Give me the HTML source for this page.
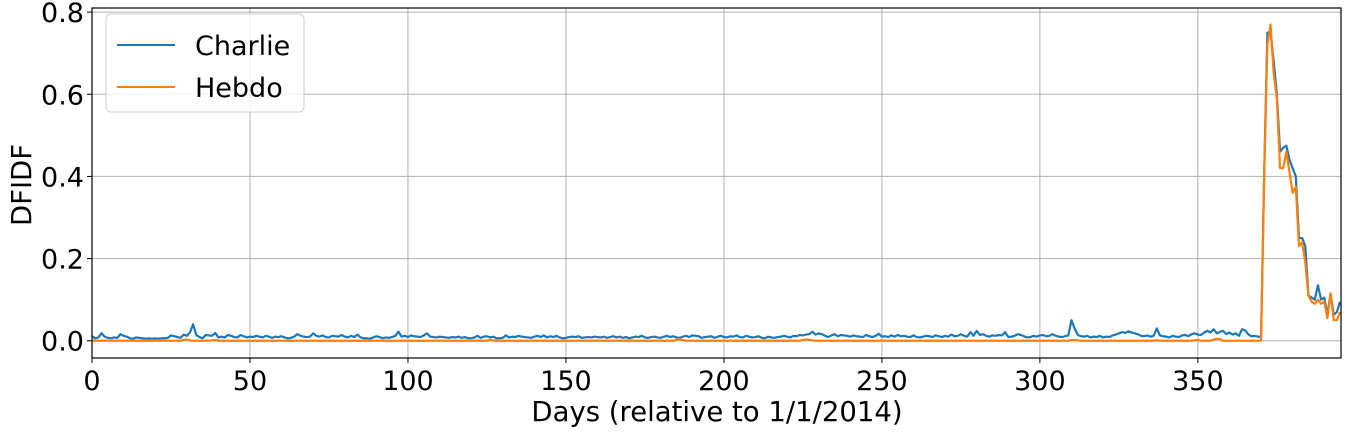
<!DOCTYPE html>
<html><head><meta charset="utf-8"><style>
body{margin:0;background:#fff;}
svg text{font-family:"DejaVu Sans","Liberation Sans",sans-serif;fill:#000;}
</style></head><body>
<svg id="chart" width="1349" height="430" viewBox="0 0 1349 430" xmlns="http://www.w3.org/2000/svg">
<g id="grid"></g>
<g id="series"></g>
<rect x="92" y="8" width="1249" height="350" fill="none" stroke="#000" stroke-width="1.2"/>
<g id="xticks"></g>
<g id="yticks"></g>
<text x="717" y="421" font-size="27.5" text-anchor="middle">Days (relative to 1/1/2014)</text>
<text transform="translate(31,185) rotate(-90)" font-size="27.5" text-anchor="middle">DFIDF</text>
<g>
<rect x="106" y="14" width="198" height="98" rx="5" fill="#fff" fill-opacity="0.8" stroke="#ccc"/>
<line x1="117" y1="45" x2="175" y2="45" stroke="#1f77b4" stroke-width="2"/>
<text x="195" y="55" font-size="27">Charlie</text>
<line x1="117" y1="87" x2="175" y2="87" stroke="#ff7f0e" stroke-width="2"/>
<text x="195" y="97" font-size="27">Hebdo</text>
</g>
</svg>
<script>
const xTicks=[0,50,100,150,200,250,300,350];
const yTicks=[0.0,0.2,0.4,0.6,0.8];
const yTickLabels=["0.0","0.2","0.4","0.6","0.8"];
const charlie=[
.011,.006,.008,.018,.01,.007,.006,.008,.007,.016,.012,.01,.006,.005,.008,.007,.006,.005,.006,.005,
.006,.005,.006,.006,.007,.013,.011,.009,.007,.015,.012,.02,.04,.014,.009,.006,.014,.013,.012,.019,
.008,.01,.008,.014,.012,.009,.008,.014,.011,.008,.01,.009,.012,.01,.008,.012,.01,.007,.01,.009,
.011,.008,.006,.007,.01,.016,.012,.01,.009,.01,.018,.012,.01,.013,.009,.008,.012,.011,.01,.014,
.01,.008,.012,.009,.015,.008,.006,.006,.005,.008,.011,.009,.006,.008,.007,.009,.012,.022,.01,.012,
.009,.013,.011,.01,.009,.013,.018,.01,.009,.008,.01,.009,.008,.007,.009,.008,.01,.007,.009,.006,
.006,.008,.012,.007,.01,.011,.008,.01,.006,.006,.007,.013,.008,.01,.009,.012,.01,.009,.008,.007,
.01,.012,.009,.013,.008,.011,.009,.012,.008,.006,.007,.009,.01,.009,.011,.007,.008,.009,.008,.01,
.009,.008,.01,.007,.009,.011,.008,.01,.007,.009,.006,.008,.01,.009,.012,.008,.007,.009,.01,.008,
.007,.01,.012,.009,.011,.008,.007,.01,.012,.009,.013,.012,.011,.007,.009,.01,.011,.007,.01,.012,
.009,.008,.011,.01,.013,.009,.008,.012,.01,.008,.009,.011,.007,.006,.01,.008,.007,.009,.01,.012,
.01,.008,.012,.011,.014,.013,.015,.016,.022,.015,.018,.016,.012,.009,.013,.016,.011,.014,.013,.012,
.01,.013,.011,.01,.009,.014,.011,.009,.012,.017,.01,.011,.009,.013,.01,.014,.011,.012,.01,.009,
.013,.009,.008,.01,.012,.011,.009,.013,.011,.009,.012,.01,.015,.011,.012,.016,.012,.01,.021,.012,
.024,.014,.016,.012,.01,.013,.012,.014,.013,.021,.009,.01,.012,.016,.014,.011,.008,.009,.012,.01,
.013,.014,.011,.012,.016,.012,.01,.009,.011,.013,.05,.03,.014,.011,.01,.012,.008,.01,.009,.012,
.008,.01,.009,.013,.015,.018,.021,.019,.023,.02,.018,.016,.012,.011,.013,.01,.012,.03,.013,.011,
.01,.008,.012,.01,.009,.013,.014,.011,.016,.018,.015,.014,.02,.024,.02,.028,.018,.022,.024,.016,
.02,.015,.018,.012,.028,.025,.015,.011,.012,.01,.009,
.41,.75,.75,.68,.60,.46,.47,.475,.44,.42,.40,.25,.25,.23,.11,.105,.10,.135,.10,.105,.063,.115,.063,.07,.095
];
const hebdo=[
0,0,0,0,0,0,0,0,0,0,0,0,0,0,0,0,0,0,0,0,
0,0,0,0,0,0,0,0,0,.002,.003,.001,0,0,0,0,0,0,.001,.002,
0,0,0,0,0,0,0,0,0,0,0,0,0,0,0,0,0,0,0,0,
0,0,0,0,0,0,0,0,0,0,0,0,0,0,0,0,0,0,0,0,
0,0,0,0,0,0,0,0,0,0,0,0,0,0,0,0,0,0,0,0,
0,0,0,0,0,0,0,0,0,0,0,0,0,0,0,0,0,0,0,0,
0,0,0,0,0,0,.002,.001,0,0,0,0,0,0,0,0,0,0,0,0,
0,0,0,0,0,0,0,0,0,0,0,0,0,0,0,0,0,0,0,0,
0,0,0,0,0,0,0,0,0,0,0,0,0,0,0,0,0,0,0,0,
0,0,0,0,0,.002,.004,.001,0,0,0,0,0,0,0,0,0,0,0,0,
0,0,0,0,0,0,0,0,0,0,0,0,0,0,0,0,0,0,0,0,
0,0,0,0,0,.002,.003,.002,.001,0,0,0,0,0,0,0,0,0,0,0,
0,0,0,0,0,0,0,0,0,0,0,0,0,0,0,0,0,0,0,0,
0,0,0,0,0,0,0,0,0,0,0,0,0,0,0,0,0,0,0,0,
0,0,0,0,0,0,0,0,0,0,0,0,0,0,0,0,0,0,0,0,
0,0,0,0,0,0,0,0,0,0,.002,.002,.001,0,0,0,0,0,0,0,
0,0,0,0,0,0,0,0,0,0,0,0,0,0,0,0,0,.001,0,0,
0,0,0,0,0,0,0,0,0,.001,.002,0,0,0,0,.003,.005,.004,0,0,
0,0,0,0,0,0,0,0,0,0,0,
.41,.72,.77,.65,.59,.42,.42,.46,.41,.36,.375,.23,.24,.19,.11,.095,.09,.10,.09,.095,.055,.115,.05,.05,.07
];
const X0=92,X1=1341,Y0=8,Y1=358,xmin=0,xmax=395.3,ymin=-0.042,ymax=0.81;
const xs=d=>X0+(d-xmin)/(xmax-xmin)*(X1-X0);
const ys=v=>Y1-(v-ymin)/(ymax-ymin)*(Y1-Y0);
const NS="http://www.w3.org/2000/svg";
const grid=document.getElementById('grid'),xt=document.getElementById('xticks'),yt=document.getElementById('yticks'),ser=document.getElementById('series');
function mk(t,a,p){const e=document.createElementNS(NS,t);for(const k in a)e.setAttribute(k,a[k]);p.appendChild(e);return e;}
xTicks.forEach(t=>{
  const x=xs(t);
  const g=mk('line',{x1:x,x2:x,y1:Y0,y2:Y1,stroke:'#b0b0b0','stroke-width':1},grid);
  
  
  const tk=mk('line',{x1:x,x2:x,y1:Y1,y2:Y1+5,stroke:'#000'},xt);
  
  
  const l=mk('text',{x:x,y:Y1+32,'font-size':27,'text-anchor':'middle'},xt);
  l.textContent=t;
  
  
});
yTicks.forEach((t,i)=>{
  const y=ys(t);
  const g=mk('line',{x1:X0,x2:X1,y1:y,y2:y,stroke:'#b0b0b0','stroke-width':1},grid);
  
  
  const tk=mk('line',{x1:X0-5,x2:X0,y1:y,y2:y,stroke:'#000'},yt);
  
  
  const l=mk('text',{x:X0-8,y:y+10,'font-size':27,'text-anchor':'end'},yt);
  l.textContent=yTickLabels[i];
  
  
});
function line(arr,color,name){
  const d=arr.map((v,i)=>(i?'L':'M')+xs(i).toFixed(2)+','+ys(v).toFixed(2)).join('');
  const p=mk('path',{d:d,fill:'none',stroke:color,'stroke-width':2.2,'stroke-linejoin':'round'},ser);
  
  
}
line(charlie,'#1f77b4','charlie-line');
line(hebdo,'#ff7f0e','hebdo-line');
</script>
</body></html>
